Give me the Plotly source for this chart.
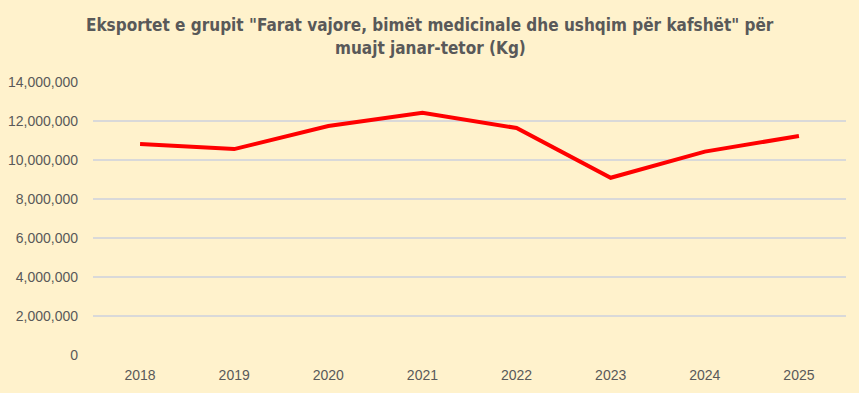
import plotly.graph_objects as go

years = ["2018", "2019", "2020", "2021", "2022", "2023", "2024", "2025"]
exports_kg = [10820000, 10560000, 11740000, 12420000, 11640000, 9090000, 10430000, 11230000]

title_line1 = 'Eksportet e grupit "Farat vajore, bimët medicinale dhe ushqim për kafshët" për'
title_line2 = 'muajt janar-tetor (Kg)'

W, HT = 859, 393
L, R, T, B = 93, 13, 82, 38
PH = HT - T - B
PW = W - L - R


def paper_y(py):
    return (HT - B - py) / PH


def paper_x(px):
    return (px - L) / PW


fig = go.Figure()
fig.add_trace(go.Scatter(
    x=years, y=exports_kg, mode="lines",
    line=dict(color="#FF0000", width=4),
    hoverinfo="x+y",
))

title_font = dict(family="DejaVu Sans Condensed, DejaVu Sans, sans-serif", size=17, color="#595959", weight="bold")
for txt, py in [(title_line1, 25), (title_line2, 48)]:
    fig.add_annotation(
        text=txt, xref="paper", yref="paper", x=paper_x(430), y=paper_y(py),
        xanchor="center", yanchor="middle", showarrow=False, font=title_font,
    )

fig.update_layout(
    width=W, height=HT,
    paper_bgcolor="#FFF2CC", plot_bgcolor="#FFF2CC",
    margin=dict(l=L, r=R, t=T, b=B, autoexpand=False),
    showlegend=False,
    font=dict(family="Liberation Sans, Arial, sans-serif", size=14, color="#595959"),
)
fig.update_xaxes(
    type="category", range=[-0.5, 7.5], showgrid=False, zeroline=False, automargin=False,
    showline=False, ticks="", ticklabelstandoff=10, tickfont=dict(size=14, color="#595959"),
)
fig.update_yaxes(
    range=[0, 14000000], dtick=2000000, tickformat=",d", automargin=False,
    showgrid=True, gridcolor="#D9D9D9", gridwidth=1.5, zeroline=False,
    showline=False, ticks="", ticklabelstandoff=14, tickfont=dict(size=14, color="#595959"),
)

fig.write_html("out.html", config={"displayModeBar": False},
               post_script="document.body.style.margin='0';document.body.style.padding='0';")
